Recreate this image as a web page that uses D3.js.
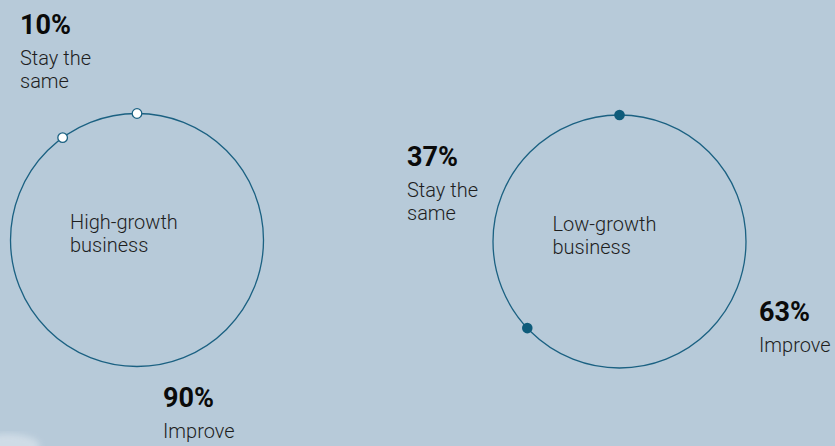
<!DOCTYPE html>
<html>
<head>
<meta charset="utf-8">
<script src="https://cdn.jsdelivr.net/npm/d3@7"></script>
<style>
  html, body { margin: 0; padding: 0; background: #b7cad9; }
  svg { display: block; font-family: Roboto, "Noto Sans", sans-serif; }
</style>
</head>
<body>
<div id="chart"></div>
<script>
// data
const groups = ["High-growth", "Low-growth"];
const groupSub = ["business", "business"];
const outcomes = ["Improve", "Stay the same"];
const improvePct = [90, 63];
const stayPct = [10, 37];

const width = 835, height = 446;
const radius = 126.5;

// where each circle sits and where its two value labels go
const layout = [
  { cx: 137, cy: 240, hollow: true,
    labels: [{ x: 163, y: 407 }, { x: 20, y: 34 }] },
  { cx: 619.5, cy: 241.5, hollow: false,
    labels: [{ x: 759, y: 321 }, { x: 407, y: 166 }] }
];

const ink = "#1b6182";
const dotInk = "#0e5b7a";

const svg = d3.select("#chart").append("svg")
  .attr("width", width).attr("height", height);

// faint smudge in the bottom left corner
const defs = svg.append("defs");
defs.append("filter").attr("id", "blur")
  .append("feGaussianBlur").attr("stdDeviation", 3);
svg.append("ellipse")
  .attr("cx", 8).attr("cy", 446).attr("rx", 32).attr("ry", 12)
  .attr("fill", "#d6e1ea").attr("opacity", 0.8)
  .attr("filter", "url(#blur)");

const pie = d3.pie().sort(null).startAngle(0).endAngle(2 * Math.PI);

groups.forEach(function (name, i) {
  let L = layout[i];
  let g = svg.append("g").attr("transform", "translate(" + L.cx + "," + L.cy + ")");

  g.append("circle")
    .attr("r", radius)
    .attr("fill", "none")
    .attr("stroke", ink)
    .attr("stroke-width", 1.3);

  let slices = pie([improvePct[i], stayPct[i]]);

  // markers at the slice boundaries
  g.selectAll("circle.mark")
    .data(slices)
    .join("circle")
    .attr("class", "mark")
    .attr("cx", d => d3.pointRadial(d.startAngle, radius)[0])
    .attr("cy", d => d3.pointRadial(d.startAngle, radius)[1])
    .attr("r", L.hollow ? 4.8 : 5.3)
    .attr("fill", L.hollow ? "#ffffff" : dotInk)
    .attr("stroke", L.hollow ? ink : "none")
    .attr("stroke-width", 1.3);

  // centre label
  let t = g.append("text")
    .attr("x", -67).attr("y", -11)
    .attr("font-size", 20).attr("font-weight", 300).attr("fill", "#1e1e1e");
  t.append("tspan").attr("x", -67).text(name);
  t.append("tspan").attr("x", -67).attr("dy", 23).text(groupSub[i]);

  // value labels
  slices.forEach(function (s, j) {
    let p = L.labels[j];
    svg.append("text")
      .attr("x", p.x).attr("y", p.y)
      .attr("font-size", 27).attr("font-weight", 700).attr("fill", "#0a0a0a")
      .text(s.data + "%");

    let words = outcomes[j] === "Stay the same" ? ["Stay the", "same"] : [outcomes[j]];
    let lt = svg.append("text")
      .attr("x", p.x).attr("y", p.y + 31)
      .attr("font-size", 20).attr("font-weight", 300).attr("fill", "#1e1e1e");
    words.forEach(function (w, k) {
      lt.append("tspan").attr("x", p.x).attr("dy", k === 0 ? 0 : 23).text(w);
    });
  });
});
</script>
</body>
</html>
